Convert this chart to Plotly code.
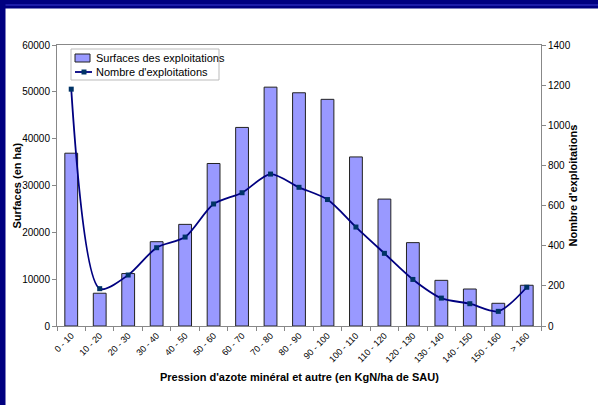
import plotly.graph_objects as go

categories = ["0 - 10", "10 - 20", "20 - 30", "30 - 40", "40 - 50", "50 - 60", "60 - 70",
              "70 - 80", "80 - 90", "90 - 100", "100 - 110", "110 - 120", "120 - 130",
              "130 - 140", "140 - 150", "150 - 160", "> 160"]
surfaces = [36900, 7000, 11200, 18000, 21700, 34700, 42400, 51000, 49800, 48400,
            36100, 27100, 17800, 9750, 7900, 4850, 8700]
nombre = [1180, 186, 254, 390, 443, 608, 664, 757, 691, 630,
          493, 362, 232, 139, 111, 73, 193]
series_names = ["Surfaces des exploitations", "Nombre d'exploitations"]

FONT = "Arial, Liberation Sans, sans-serif"
BAR_COLOR = "#9999FF"
LINE_COLOR = "#000080"
MARKER_COLOR = "#003366"

# plot area in px
L, R, T, B = 57, 541, 45, 326
W, H = R - L, B - T


def px(xp):
    return (xp - L) / W


def py(yp):
    return (B - yp) / H


fig = go.Figure()
fig.add_trace(go.Bar(
    x=categories, y=surfaces, name=series_names[0],
    marker=dict(color=BAR_COLOR, line=dict(color="#222222", width=1)),
    width=0.45, yaxis="y",
))
fig.add_trace(go.Scatter(
    x=categories, y=nombre, name=series_names[1], yaxis="y2",
    mode="lines+markers",
    line=dict(color=LINE_COLOR, width=1.8, shape="spline", smoothing=0.8),
    marker=dict(symbol="square", size=5, color=MARKER_COLOR),
))

shapes = [
    # frame decoration
    dict(type="rect", xref="paper", yref="paper", x0=px(0), x1=px(598), y0=py(8.5), y1=py(0),
         fillcolor="#000080", line=dict(width=0), layer="above"),
    dict(type="line", xref="paper", yref="paper", x0=px(0), x1=px(598), y0=py(5), y1=py(5),
         line=dict(color="#3a3ad0", width=1), layer="above"),
    dict(type="rect", xref="paper", yref="paper", x0=px(0), x1=px(5.5), y0=py(405), y1=py(0),
         fillcolor="#000080", line=dict(width=0), layer="above"),
    # legend box
    dict(type="rect", xref="paper", yref="paper", x0=px(71), x1=px(219), y0=py(80), y1=py(49),
         fillcolor="white", line=dict(color="#bbbbbb", width=1), layer="above"),
    dict(type="rect", xref="paper", yref="paper", x0=px(75), x1=px(90), y0=py(62), y1=py(54),
         fillcolor=BAR_COLOR, line=dict(color="#222222", width=1), layer="above"),
    dict(type="line", xref="paper", yref="paper", x0=px(75), x1=px(92), y0=py(72), y1=py(72),
         line=dict(color=LINE_COLOR, width=1.8), layer="above"),
    dict(type="rect", xref="paper", yref="paper", x0=px(81.5), x1=px(86.5), y0=py(74.5), y1=py(69.5),
         fillcolor=MARKER_COLOR, line=dict(width=0), layer="above"),
]

annotations = [
    dict(text=series_names[0], xref="paper", yref="paper", x=px(94), y=py(58),
         xanchor="left", yanchor="middle", showarrow=False, font=dict(size=11)),
    dict(text=series_names[1], xref="paper", yref="paper", x=px(94), y=py(72),
         xanchor="left", yanchor="middle", showarrow=False, font=dict(size=11)),
    dict(text="<b>Surfaces (en ha)</b>", xref="paper", yref="paper", x=px(16), y=py(185.5),
         xanchor="center", yanchor="middle", textangle=-90, showarrow=False, font=dict(size=11)),
    dict(text="<b>Nombre d'exploitations</b>", xref="paper", yref="paper", x=px(572), y=py(185.5),
         xanchor="center", yanchor="middle", textangle=-90, showarrow=False, font=dict(size=11)),
    dict(text="<b>Pression d'azote minéral et autre (en KgN/ha de SAU)</b>", xref="paper",
         yref="paper", x=px(299), y=py(377), xanchor="center", yanchor="middle",
         showarrow=False, font=dict(size=11)),
]

fig.update_layout(
    width=598, height=405,
    margin=dict(l=L, r=598 - R, t=T, b=405 - B, autoexpand=False),
    paper_bgcolor="white", plot_bgcolor="white",
    font=dict(family=FONT, size=10, color="black"),
    showlegend=False,
    xaxis=dict(type="category", tickangle=-45, tickfont=dict(size=9),
               range=[-0.5, len(categories) - 0.5],
               showline=True, linecolor="#888888", mirror=True,
               ticks="outside", ticklen=4, tickcolor="#888888", tickson="boundaries",
               showgrid=False, automargin=False),
    yaxis=dict(range=[0, 60000], dtick=10000, showgrid=False, tickformat="d",
               showline=True, linecolor="#888888", mirror=True,
               ticks="outside", ticklen=4, tickcolor="#888888", automargin=False,
               tickfont=dict(size=10), zeroline=False),
    yaxis2=dict(range=[0, 1400], dtick=200, overlaying="y", side="right", showgrid=False,
                ticks="outside", ticklen=4, tickcolor="#888888", zeroline=False,
                tickfont=dict(size=10), automargin=False, tickformat="d"),
    shapes=shapes,
    annotations=annotations,
    bargap=0.55,
)

fig.write_html("out.html", config={"displayModeBar": False},
               post_script="document.body.style.margin='0';document.body.style.overflow='hidden';")
